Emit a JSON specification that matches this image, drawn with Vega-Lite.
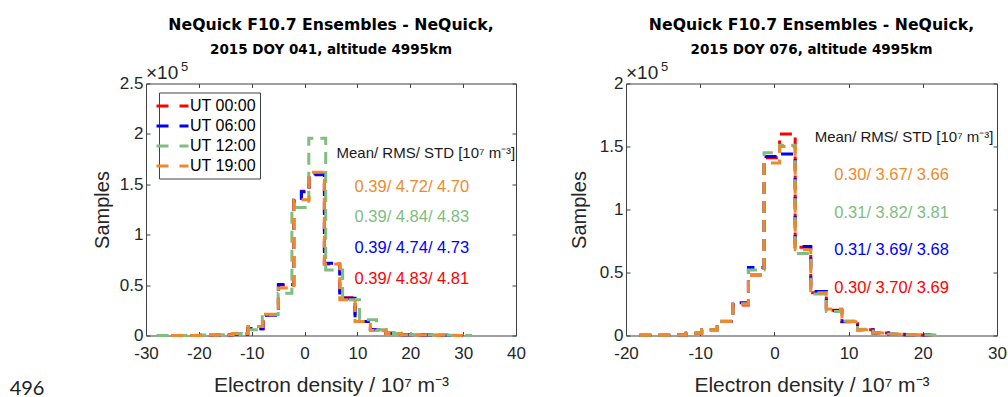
{
  "$schema": "https://vega.github.io/schema/vega-lite/v6.json",
  "background": "white",
  "padding": {"left": 9, "top": 15.5, "right": 0, "bottom": 0},
  "spacing": 42,
  "config": {
    "font": "Liberation Sans",
    "view": {"stroke": "#404040", "strokeWidth": 1},
    "axis": {"grid": false, "domain": false, "labelFlush": false, "tickColor": "#404040", "tickSize": -4, "labelFontSize": 17, "labelColor": "#262626", "titleFontSize": 20, "titleFontWeight": "normal", "titleColor": "#262626"},
    "title": {"font": "DejaVu Sans", "subtitleFont": "DejaVu Sans"},
    "text": {"font": "Liberation Sans"}
  },
  "datasets": {
    "left": [
      {"series": "UT 00:00", "x": -25.25, "count": 50}, {"series": "UT 00:00", "x": -22.35, "count": 100}, {"series": "UT 00:00", "x": -19.45, "count": 200}, {"series": "UT 00:00", "x": -16.55, "count": 400}, {"series": "UT 00:00", "x": -13.65, "count": 1500}, {"series": "UT 00:00", "x": -10.75, "count": 6800}, {"series": "UT 00:00", "x": -7.85, "count": 20500}, {"series": "UT 00:00", "x": -4.95, "count": 50000}, {"series": "UT 00:00", "x": -2.05, "count": 134000}, {"series": "UT 00:00", "x": -0.6, "count": 143000}, {"series": "UT 00:00", "x": 0.85, "count": 160500}, {"series": "UT 00:00", "x": 3.75, "count": 71000}, {"series": "UT 00:00", "x": 6.65, "count": 37500}, {"series": "UT 00:00", "x": 9.55, "count": 14000}, {"series": "UT 00:00", "x": 12.45, "count": 5700}, {"series": "UT 00:00", "x": 15.35, "count": 2300}, {"series": "UT 00:00", "x": 18.25, "count": 800}, {"series": "UT 00:00", "x": 21.15, "count": 400}, {"series": "UT 00:00", "x": 24.05, "count": 200}, {"series": "UT 00:00", "x": 26.95, "count": 100}, {"series": "UT 00:00", "x": 29.85, "count": 0},
      {"series": "UT 06:00", "x": -25.25, "count": 50}, {"series": "UT 06:00", "x": -22.35, "count": 100}, {"series": "UT 06:00", "x": -19.45, "count": 200}, {"series": "UT 06:00", "x": -16.55, "count": 400}, {"series": "UT 06:00", "x": -13.65, "count": 1400}, {"series": "UT 06:00", "x": -10.75, "count": 6600}, {"series": "UT 06:00", "x": -7.85, "count": 20000}, {"series": "UT 06:00", "x": -4.95, "count": 50500}, {"series": "UT 06:00", "x": -2.05, "count": 133500}, {"series": "UT 06:00", "x": -0.6, "count": 142500}, {"series": "UT 06:00", "x": 0.85, "count": 159400}, {"series": "UT 06:00", "x": 3.75, "count": 71700}, {"series": "UT 06:00", "x": 6.65, "count": 37000}, {"series": "UT 06:00", "x": 9.55, "count": 13900}, {"series": "UT 06:00", "x": 12.45, "count": 5600}, {"series": "UT 06:00", "x": 15.35, "count": 2300}, {"series": "UT 06:00", "x": 18.25, "count": 800}, {"series": "UT 06:00", "x": 21.15, "count": 400}, {"series": "UT 06:00", "x": 24.05, "count": 200}, {"series": "UT 06:00", "x": 26.95, "count": 100}, {"series": "UT 06:00", "x": 29.85, "count": 0},
      {"series": "UT 12:00", "x": -28.0, "count": 50}, {"series": "UT 12:00", "x": -25.1, "count": 100}, {"series": "UT 12:00", "x": -22.2, "count": 200}, {"series": "UT 12:00", "x": -19.3, "count": 400}, {"series": "UT 12:00", "x": -16.4, "count": 800}, {"series": "UT 12:00", "x": -13.5, "count": 2000}, {"series": "UT 12:00", "x": -10.6, "count": 5700}, {"series": "UT 12:00", "x": -8.0, "count": 20500}, {"series": "UT 12:00", "x": -5.0, "count": 42000}, {"series": "UT 12:00", "x": -2.4, "count": 127000}, {"series": "UT 12:00", "x": 0.8, "count": 195700}, {"series": "UT 12:00", "x": 4.0, "count": 65000}, {"series": "UT 12:00", "x": 7.2, "count": 35400}, {"series": "UT 12:00", "x": 10.4, "count": 15600}, {"series": "UT 12:00", "x": 13.6, "count": 5600}, {"series": "UT 12:00", "x": 16.8, "count": 2000}, {"series": "UT 12:00", "x": 20.0, "count": 800}, {"series": "UT 12:00", "x": 23.2, "count": 400}, {"series": "UT 12:00", "x": 26.4, "count": 200}, {"series": "UT 12:00", "x": 29.6, "count": 100}, {"series": "UT 12:00", "x": 31.4, "count": 0},
      {"series": "UT 19:00", "x": -25.25, "count": 50}, {"series": "UT 19:00", "x": -22.35, "count": 100}, {"series": "UT 19:00", "x": -19.45, "count": 200}, {"series": "UT 19:00", "x": -16.55, "count": 400}, {"series": "UT 19:00", "x": -13.65, "count": 2000}, {"series": "UT 19:00", "x": -10.75, "count": 9000}, {"series": "UT 19:00", "x": -7.85, "count": 21000}, {"series": "UT 19:00", "x": -4.95, "count": 47000}, {"series": "UT 19:00", "x": -2.05, "count": 134600}, {"series": "UT 19:00", "x": 0.85, "count": 162000}, {"series": "UT 19:00", "x": 3.75, "count": 71000}, {"series": "UT 19:00", "x": 6.65, "count": 35400}, {"series": "UT 19:00", "x": 9.55, "count": 14000}, {"series": "UT 19:00", "x": 12.45, "count": 5000}, {"series": "UT 19:00", "x": 15.35, "count": 2000}, {"series": "UT 19:00", "x": 18.25, "count": 800}, {"series": "UT 19:00", "x": 21.15, "count": 400}, {"series": "UT 19:00", "x": 24.05, "count": 200}, {"series": "UT 19:00", "x": 26.95, "count": 100}, {"series": "UT 19:00", "x": 29.85, "count": 0}
    ],
    "right": [
      {"series": "UT 00:00", "x": -18.2, "count": 100}, {"series": "UT 00:00", "x": -16.1, "count": 200}, {"series": "UT 00:00", "x": -14.0, "count": 400}, {"series": "UT 00:00", "x": -11.9, "count": 1800}, {"series": "UT 00:00", "x": -9.8, "count": 4500}, {"series": "UT 00:00", "x": -7.7, "count": 11100}, {"series": "UT 00:00", "x": -5.6, "count": 24300}, {"series": "UT 00:00", "x": -3.5, "count": 48000}, {"series": "UT 00:00", "x": -1.4, "count": 141000}, {"series": "UT 00:00", "x": 0.7, "count": 160000}, {"series": "UT 00:00", "x": 2.8, "count": 70000}, {"series": "UT 00:00", "x": 4.9, "count": 34000}, {"series": "UT 00:00", "x": 7.0, "count": 20000}, {"series": "UT 00:00", "x": 9.1, "count": 11000}, {"series": "UT 00:00", "x": 11.2, "count": 4600}, {"series": "UT 00:00", "x": 13.3, "count": 2000}, {"series": "UT 00:00", "x": 15.4, "count": 1000}, {"series": "UT 00:00", "x": 17.5, "count": 600}, {"series": "UT 00:00", "x": 19.6, "count": 300}, {"series": "UT 00:00", "x": 21.7, "count": 0},
      {"series": "UT 06:00", "x": -18.2, "count": 100}, {"series": "UT 06:00", "x": -16.1, "count": 200}, {"series": "UT 06:00", "x": -14.0, "count": 400}, {"series": "UT 06:00", "x": -11.9, "count": 1800}, {"series": "UT 06:00", "x": -9.8, "count": 4500}, {"series": "UT 06:00", "x": -7.7, "count": 11100}, {"series": "UT 06:00", "x": -5.6, "count": 26000}, {"series": "UT 06:00", "x": -3.5, "count": 54000}, {"series": "UT 06:00", "x": -1.4, "count": 142000}, {"series": "UT 06:00", "x": 0.7, "count": 144000}, {"series": "UT 06:00", "x": 2.8, "count": 70600}, {"series": "UT 06:00", "x": 4.9, "count": 34900}, {"series": "UT 06:00", "x": 7.0, "count": 19600}, {"series": "UT 06:00", "x": 9.1, "count": 11100}, {"series": "UT 06:00", "x": 11.2, "count": 4500}, {"series": "UT 06:00", "x": 13.3, "count": 2000}, {"series": "UT 06:00", "x": 15.4, "count": 1000}, {"series": "UT 06:00", "x": 17.5, "count": 600}, {"series": "UT 06:00", "x": 19.6, "count": 300}, {"series": "UT 06:00", "x": 20.8, "count": 0},
      {"series": "UT 12:00", "x": -18.2, "count": 100}, {"series": "UT 12:00", "x": -16.1, "count": 200}, {"series": "UT 12:00", "x": -14.0, "count": 400}, {"series": "UT 12:00", "x": -11.9, "count": 1800}, {"series": "UT 12:00", "x": -9.8, "count": 4500}, {"series": "UT 12:00", "x": -7.7, "count": 11500}, {"series": "UT 12:00", "x": -5.6, "count": 25000}, {"series": "UT 12:00", "x": -3.5, "count": 52000}, {"series": "UT 12:00", "x": -1.4, "count": 145000}, {"series": "UT 12:00", "x": 0.7, "count": 151000}, {"series": "UT 12:00", "x": 2.8, "count": 65000}, {"series": "UT 12:00", "x": 4.9, "count": 33000}, {"series": "UT 12:00", "x": 7.0, "count": 19000}, {"series": "UT 12:00", "x": 9.1, "count": 11500}, {"series": "UT 12:00", "x": 11.2, "count": 5000}, {"series": "UT 12:00", "x": 13.3, "count": 2200}, {"series": "UT 12:00", "x": 15.4, "count": 1100}, {"series": "UT 12:00", "x": 17.5, "count": 600}, {"series": "UT 12:00", "x": 19.6, "count": 300}, {"series": "UT 12:00", "x": 22.3, "count": 0},
      {"series": "UT 19:00", "x": -18.2, "count": 100}, {"series": "UT 19:00", "x": -16.1, "count": 200}, {"series": "UT 19:00", "x": -14.0, "count": 400}, {"series": "UT 19:00", "x": -11.9, "count": 1800}, {"series": "UT 19:00", "x": -9.8, "count": 4500}, {"series": "UT 19:00", "x": -7.7, "count": 11100}, {"series": "UT 19:00", "x": -5.6, "count": 25000}, {"series": "UT 19:00", "x": -3.5, "count": 48000}, {"series": "UT 19:00", "x": -1.4, "count": 137000}, {"series": "UT 19:00", "x": 0.7, "count": 150000}, {"series": "UT 19:00", "x": 2.8, "count": 68000}, {"series": "UT 19:00", "x": 4.9, "count": 34000}, {"series": "UT 19:00", "x": 7.0, "count": 21000}, {"series": "UT 19:00", "x": 9.1, "count": 11000}, {"series": "UT 19:00", "x": 11.2, "count": 4500}, {"series": "UT 19:00", "x": 13.3, "count": 2000}, {"series": "UT 19:00", "x": 15.4, "count": 1000}, {"series": "UT 19:00", "x": 17.5, "count": 500}, {"series": "UT 19:00", "x": 19.6, "count": 0}
    ]
  },
  "hconcat": [
    {
      "width": 370, "height": 252,
      "title": {"text": "NeQuick F10.7 Ensembles - NeQuick,", "subtitle": "2015 DOY 041, altitude 4995km", "fontSize": 15.7, "fontWeight": "bold", "color": "black", "subtitleFontSize": 13.5, "subtitleFontWeight": "bold", "subtitleColor": "black", "subtitlePadding": 9.5, "offset": 4, "anchor": "middle"},
      "resolve": {"axis": {"x": "independent", "y": "independent"}},
      "layer": [
        {
          "data": {"name": "left"},
          "mark": {"type": "line", "interpolate": "step-after", "strokeWidth": 3, "strokeDash": [12, 7]},
          "encoding": {
            "x": {"field": "x", "type": "quantitative", "scale": {"domain": [-30, 40], "nice": false, "zero": false}, "axis": {"orient": "bottom", "values": [-30, -20, -10, 0, 10, 20, 30, 40], "labelExpr": "'' + datum.value", "title": "Electron density / 10⁷ m⁻³", "titleFontSize": 21, "labelPadding": 14, "titlePadding": 13}},
            "y": {"field": "count", "type": "quantitative", "scale": {"domain": [0, 250000], "nice": false}, "axis": {"orient": "left", "values": [0, 50000, 100000, 150000, 200000, 250000], "labelExpr": "'' + datum.value / 100000", "title": "Samples", "labelPadding": 7, "titlePadding": 7}},
            "color": {"field": "series", "type": "nominal", "scale": {"domain": ["UT 00:00", "UT 06:00", "UT 12:00", "UT 19:00"], "range": ["#ff0000", "#0000ff", "#80bd80", "#ef8a2c"]},
              "legend": {"title": null, "orient": "none", "legendX": 13, "legendY": 9, "symbolType": "M-2,0H2", "symbolSize": 256, "symbolStrokeWidth": 3, "symbolDash": [12, 11], "symbolFillColor": "transparent", "labelFontSize": 16, "labelColor": "black", "strokeColor": "#404040", "fillColor": "white", "padding": 4, "rowPadding": 2, "labelOffset": 8}}
          }
        },
        {
          "data": {"values": [{}]},
          "mark": {"type": "text", "text": "×10", "align": "left", "baseline": "alphabetic", "fontSize": 19, "color": "#262626"},
          "encoding": {
            "x": {"datum": -30, "type": "quantitative", "axis": {"orient": "top", "values": [-30, -20, -10, 0, 10, 20, 30, 40], "labels": false, "title": null}},
            "y": {"datum": 254000, "type": "quantitative", "axis": {"orient": "right", "values": [0, 50000, 100000, 150000, 200000, 250000], "labels": false, "title": null}}
          }
        },
        {"data": {"values": [{}]}, "mark": {"type": "text", "text": "5", "align": "left", "baseline": "alphabetic", "fontSize": 13, "dx": 35, "dy": -8, "color": "#262626"}, "encoding": {"x": {"datum": -30, "type": "quantitative", "axis": null}, "y": {"datum": 254000, "type": "quantitative", "axis": null}}},
        {"data": {"values": [{}]}, "mark": {"type": "text", "text": "Mean/ RMS/ STD [10⁷ m⁻³]", "align": "center", "fontSize": 15, "color": "#1a1a1a"}, "encoding": {"x": {"datum": 22.95, "type": "quantitative", "axis": null}, "y": {"datum": 180800, "type": "quantitative", "axis": null}}},
        {"data": {"values": [{}]}, "mark": {"type": "text", "text": "0.39/ 4.72/ 4.70", "align": "center", "fontSize": 16.5, "color": "#ef8a2c"}, "encoding": {"x": {"datum": 20.3, "type": "quantitative", "axis": null}, "y": {"datum": 147800, "type": "quantitative", "axis": null}}},
        {"data": {"values": [{}]}, "mark": {"type": "text", "text": "0.39/ 4.84/ 4.83", "align": "center", "fontSize": 16.5, "color": "#80bd80"}, "encoding": {"x": {"datum": 20.3, "type": "quantitative", "axis": null}, "y": {"datum": 117400, "type": "quantitative", "axis": null}}},
        {"data": {"values": [{}]}, "mark": {"type": "text", "text": "0.39/ 4.74/ 4.73", "align": "center", "fontSize": 16.5, "color": "#0000ff"}, "encoding": {"x": {"datum": 20.3, "type": "quantitative", "axis": null}, "y": {"datum": 86600, "type": "quantitative", "axis": null}}},
        {"data": {"values": [{}]}, "mark": {"type": "text", "text": "0.39/ 4.83/ 4.81", "align": "center", "fontSize": 16.5, "color": "#ff0000"}, "encoding": {"x": {"datum": 20.3, "type": "quantitative", "axis": null}, "y": {"datum": 56200, "type": "quantitative", "axis": null}}},
        {"data": {"values": [{}]}, "mark": {"type": "text", "text": "496", "align": "center", "baseline": "middle", "font": "Lato", "fontSize": 20, "color": "#222222"}, "encoding": {"x": {"datum": -52.5, "type": "quantitative", "axis": null}, "y": {"datum": -52600, "type": "quantitative", "axis": null}}}
      ]
    },
    {
      "width": 371, "height": 252,
      "title": {"text": "NeQuick F10.7 Ensembles - NeQuick,", "subtitle": "2015 DOY 076, altitude 4995km", "fontSize": 15.7, "fontWeight": "bold", "color": "black", "subtitleFontSize": 13.5, "subtitleFontWeight": "bold", "subtitleColor": "black", "subtitlePadding": 9.5, "offset": 4, "anchor": "middle"},
      "resolve": {"axis": {"x": "independent", "y": "independent"}},
      "layer": [
        {
          "data": {"name": "right"},
          "mark": {"type": "line", "interpolate": "step-after", "strokeWidth": 3, "strokeDash": [12, 7]},
          "encoding": {
            "x": {"field": "x", "type": "quantitative", "scale": {"domain": [-20, 30], "nice": false, "zero": false}, "axis": {"orient": "bottom", "values": [-20, -10, 0, 10, 20, 30], "labelExpr": "'' + datum.value", "title": "Electron density / 10⁷ m⁻³", "titleFontSize": 21, "labelPadding": 14, "titlePadding": 13}},
            "y": {"field": "count", "type": "quantitative", "scale": {"domain": [0, 200000], "nice": false}, "axis": {"orient": "left", "values": [0, 50000, 100000, 150000, 200000], "labelExpr": "'' + datum.value / 100000", "title": "Samples", "labelPadding": 7, "titlePadding": 10}},
            "color": {"field": "series", "type": "nominal", "scale": {"domain": ["UT 00:00", "UT 06:00", "UT 12:00", "UT 19:00"], "range": ["#ff0000", "#0000ff", "#80bd80", "#ef8a2c"]},
              "legend": {"title": null, "orient": "none", "legendX": 12, "legendY": 9, "symbolType": "M-2,0H2", "symbolSize": 256, "symbolStrokeWidth": 3, "symbolDash": [12, 11], "symbolFillColor": "transparent", "labelFontSize": 16, "labelColor": "black", "strokeColor": "#404040", "fillColor": "white", "padding": 4, "rowPadding": 2, "labelOffset": 8}}
          }
        },
        {
          "data": {"values": [{}]},
          "mark": {"type": "text", "text": "×10", "align": "left", "baseline": "alphabetic", "fontSize": 19, "color": "#262626"},
          "encoding": {
            "x": {"datum": -20, "type": "quantitative", "axis": {"orient": "top", "values": [-20, -10, 0, 10, 20, 30], "labels": false, "title": null}},
            "y": {"datum": 203200, "type": "quantitative", "axis": {"orient": "right", "values": [0, 50000, 100000, 150000, 200000], "labels": false, "title": null}}
          }
        },
        {"data": {"values": [{}]}, "mark": {"type": "text", "text": "5", "align": "left", "baseline": "alphabetic", "fontSize": 13, "dx": 35, "dy": -8, "color": "#262626"}, "encoding": {"x": {"datum": -20, "type": "quantitative", "axis": null}, "y": {"datum": 203200, "type": "quantitative", "axis": null}}},
        {"data": {"values": [{}]}, "mark": {"type": "text", "text": "Mean/ RMS/ STD [10⁷ m⁻³]", "align": "center", "fontSize": 15, "color": "#1a1a1a"}, "encoding": {"x": {"datum": 17.47, "type": "quantitative", "axis": null}, "y": {"datum": 157900, "type": "quantitative", "axis": null}}},
        {"data": {"values": [{}]}, "mark": {"type": "text", "text": "0.30/ 3.67/ 3.66", "align": "center", "fontSize": 16.5, "color": "#ef8a2c"}, "encoding": {"x": {"datum": 15.8, "type": "quantitative", "axis": null}, "y": {"datum": 127500, "type": "quantitative", "axis": null}}},
        {"data": {"values": [{}]}, "mark": {"type": "text", "text": "0.31/ 3.82/ 3.81", "align": "center", "fontSize": 16.5, "color": "#80bd80"}, "encoding": {"x": {"datum": 15.8, "type": "quantitative", "axis": null}, "y": {"datum": 97100, "type": "quantitative", "axis": null}}},
        {"data": {"values": [{}]}, "mark": {"type": "text", "text": "0.31/ 3.69/ 3.68", "align": "center", "fontSize": 16.5, "color": "#0000ff"}, "encoding": {"x": {"datum": 15.8, "type": "quantitative", "axis": null}, "y": {"datum": 68000, "type": "quantitative", "axis": null}}},
        {"data": {"values": [{}]}, "mark": {"type": "text", "text": "0.30/ 3.70/ 3.69", "align": "center", "fontSize": 16.5, "color": "#ff0000"}, "encoding": {"x": {"datum": 15.8, "type": "quantitative", "axis": null}, "y": {"datum": 37500, "type": "quantitative", "axis": null}}}
      ]
    }
  ]
}
